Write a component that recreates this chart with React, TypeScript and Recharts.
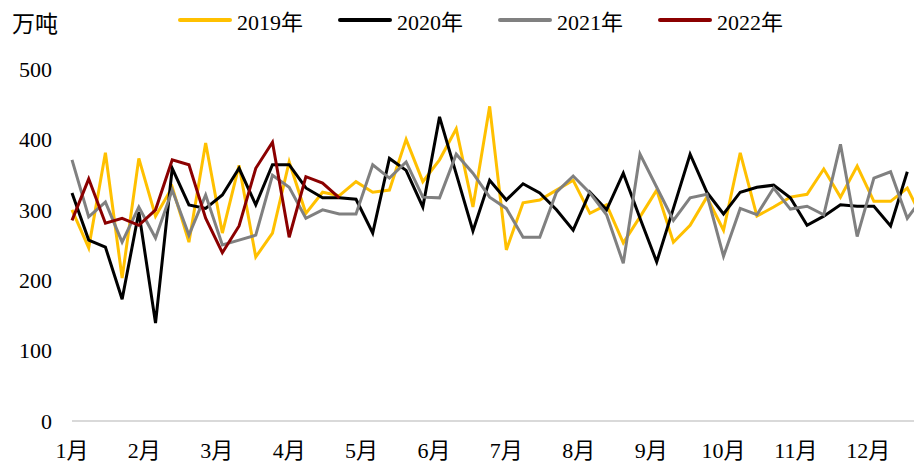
import React from "react"
import { LineChart, Line, XAxis, YAxis } from "recharts"

// 周度数据，单位：万吨
const y2019 = [
  300, 246, 381, 203, 373, 291, 332, 254, 395, 267, 363, 233, 267, 368, 295, 325, 320, 340, 325, 328,
  400, 340, 371, 415, 304, 447, 243, 310, 314, 328, 342, 295, 307, 253, 290, 328, 254, 278, 318, 271,
  381, 291, 304, 318, 322, 358, 318, 362, 312, 312, 331, 283,
]
const y2020 = [
  324, 257, 247, 173, 297, 139, 359, 307, 302, 321, 359, 307, 364, 364, 331, 317, 317, 315, 267, 373,
  356, 304, 432, 351, 270, 342, 314, 337, 324, 300, 271, 325, 300, 352, 288, 226, 302, 379, 325, 294,
  325, 332, 335, 317, 278, 291, 307, 305, 305, 277, 354,
]
const y2021 = [
  371, 290, 311, 254, 304, 260, 328, 264, 321, 250, 257, 264, 349, 332, 288, 300, 294, 294, 364, 345,
  368, 318, 317, 379, 352, 318, 302, 261, 261, 325, 348, 324, 293, 224, 379, 332, 285, 317, 322, 234,
  302, 293, 331, 301, 305, 293, 393, 262, 345, 354, 288, 320,
]
const y2022 = [285, 344, 281, 288, 278, 300, 371, 364, 288, 239, 277, 359, 396, 261, 347, 338, 317]

const monthLabels = ["1月", "2月", "3月", "4月", "5月", "6月", "7月", "8月", "9月", "10月", "11月", "12月"]
const monthTicks = [0, 4.33, 8.67, 13, 17.33, 21.67, 26, 30.33, 34.67, 39, 43.33, 47.67]
const yTicks = [0, 100, 200, 300, 400, 500]

const series = [
  { key: "y2019", name: "2019年", color: "#FFC000", values: y2019 },
  { key: "y2020", name: "2020年", color: "#000000", values: y2020 },
  { key: "y2021", name: "2021年", color: "#808080", values: y2021 },
  { key: "y2022", name: "2022年", color: "#8B0000", values: y2022 },
]

const data = y2021.map((_, i) => {
  const row: Record<string, number | null> = { w: i }
  series.forEach((s) => {
    row[s.key] = s.values[i] ?? null
  })
  return row
})

const FONT = '"Liberation Serif", "Noto Sans CJK SC", serif'
const tickStyle = { fill: "#000", fontSize: 22, fontFamily: FONT }

export default function App() {
  return (
    <div
      style={{
        position: "fixed",
        left: 0,
        top: 0,
        width: 914,
        height: 464,
        overflow: "hidden",
        background: "#fff",
        fontFamily: FONT,
      }}
    >
      <div style={{ position: "absolute", left: 12, top: 10, fontSize: 23, lineHeight: "30px" }}>万吨</div>

      {/* 图例 */}
      <div style={{ position: "absolute", left: 178, top: 5, display: "flex" }}>
        {series.map((s) => (
          <div key={s.key} style={{ width: 160, display: "flex", alignItems: "center", height: 30 }}>
            <div style={{ width: 54, height: 4, borderRadius: 2, background: s.color, marginRight: 5 }} />
            <span style={{ fontSize: 22 }}>{s.name}</span>
          </div>
        ))}
      </div>

      <div style={{ position: "absolute", left: 0, top: 0 }}>
        <LineChart width={924} height={464} data={data} margin={{ top: 69, right: 0, bottom: 0, left: 0 }}>
          <XAxis
            dataKey="w"
            type="number"
            domain={[0, 51]}
            ticks={monthTicks}
            tickFormatter={(v: number) => monthLabels[monthTicks.indexOf(v)] ?? ""}
            interval={0}
            tick={tickStyle}
            tickLine={false}
            tickSize={0}
            tickMargin={21}
            axisLine={{ stroke: "#d9d9d9", strokeWidth: 2 }}
            height={43}
          />
          <YAxis
            domain={[0, 500]}
            ticks={yTicks}
            tick={tickStyle}
            tickLine={false}
            tickSize={0}
            tickMargin={20}
            axisLine={false}
            width={72}
          />
          {series.map((s) => (
            <Line
              key={s.key}
              dataKey={s.key}
              name={s.name}
              type="linear"
              stroke={s.color}
              strokeWidth={3}
              dot={false}
              isAnimationActive={false}
            />
          ))}
        </LineChart>
      </div>
    </div>
  )
}
